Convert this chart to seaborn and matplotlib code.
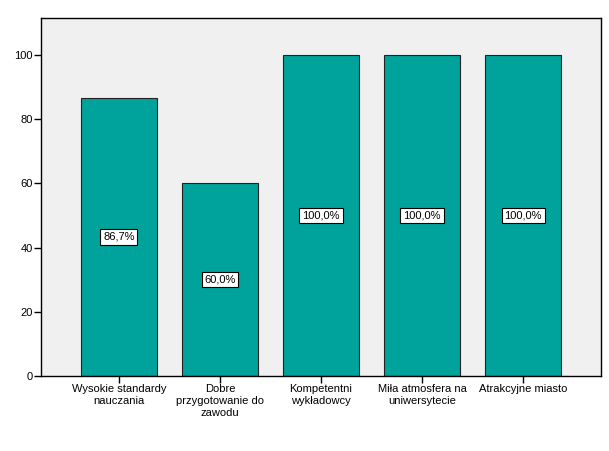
import seaborn as sns
import matplotlib.pyplot as plt
import pandas as pd

categories = ['Wysokie standardy\nnauczania', 'Dobre\nprzygotowanie do\nzawodu',
              'Kompetentni\nwykładowcy', 'Miła atmosfera na\nuniwersytecie', 'Atrakcyjne miasto']
values = [86.7, 60.0, 100.0, 100.0, 100.0]
labels = ['86,7%', '60,0%', '100,0%', '100,0%', '100,0%']

df = pd.DataFrame({'cat': categories, 'val': values})

sns.set_style('ticks')
plt.rcParams['font.family'] = ['Liberation Sans', 'DejaVu Sans']
plt.rcParams['text.color'] = 'black'
plt.rcParams['xtick.color'] = 'black'
plt.rcParams['ytick.color'] = 'black'

fig = plt.figure(figsize=(6.09, 4.51), dpi=100)
ax = fig.add_axes([0.0673, 0.1663, 0.9196, 0.7937])
ax.set_facecolor('#F0F0F0')

sns.barplot(data=df, x='cat', y='val', color='#00A39B', saturation=1,
            width=0.75, edgecolor='#222222', linewidth=0.8, ax=ax)

for i, (v, lab) in enumerate(zip(values, labels)):
    ax.text(i, v / 2, lab, ha='center', va='center', fontsize=8, color='black',
            bbox=dict(boxstyle='square,pad=0.25', fc='white', ec='black', lw=0.8))

ax.set_xlim(-0.772, 4.772)
ax.set_ylim(0, 111.5)
ax.set_yticks([0, 20, 40, 60, 80, 100])
ax.set_xlabel('')
ax.set_ylabel('')
ax.tick_params(axis='both', labelsize=8, length=5, width=1, colors='black', pad=1)
for s in ax.spines.values():
    s.set_color('black')
    s.set_linewidth(1)

fig.savefig('out.png', dpi=100)
